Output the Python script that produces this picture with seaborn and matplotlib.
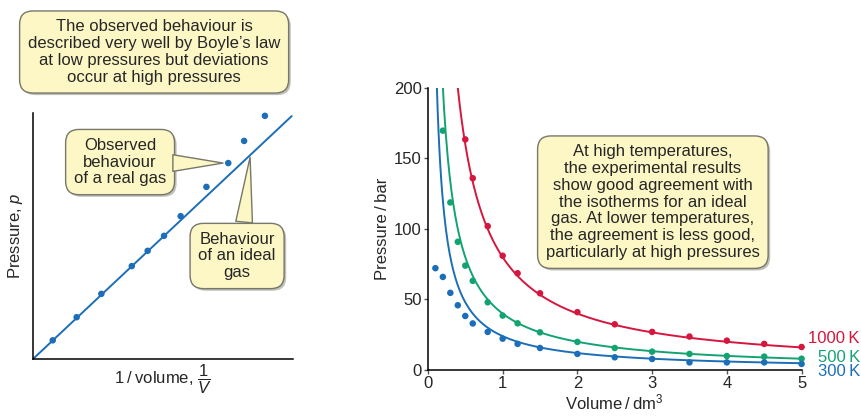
import seaborn as sns
import numpy as np
import matplotlib.pyplot as plt
from matplotlib import patheffects as pe

# left panel: 1/V vs p in arbitrary units
inv_volume = [0.76, 1.68, 2.63, 3.80, 4.41, 5.04, 5.68, 6.67, 7.51, 8.12, 8.92]
pressure_real = [0.76, 1.70, 2.65, 3.78, 4.40, 5.01, 5.81, 7.00, 7.97, 8.87, 9.89]
ideal_x = [0, 9.95]
ideal_y = [0, 9.88]

# right panel: measured points, volume in dm3, pressure in bar
vol_1000 = [0.5, 0.6, 0.8, 1.0, 1.2, 1.5, 2, 2.5, 3, 3.5, 4, 4.5, 5]
p_1000 = [163.5, 136, 102, 81, 68.6, 54.4, 41, 32.4, 27, 23.7, 20.8, 18.5, 16.3]
vol_500 = [0.2, 0.3, 0.4, 0.5, 0.6, 0.8, 1.0, 1.2, 1.5, 2, 2.5, 3, 3.5, 4, 4.5, 5]
p_500 = [169.7, 118.8, 90.9, 74, 63.2, 48, 38.6, 33.1, 26.7, 19.9, 15.6, 13, 11.4, 9.9, 9.5, 8]
vol_300 = [0.1, 0.2, 0.3, 0.4, 0.5, 0.6, 0.8, 1.0, 1.2, 1.5, 2, 2.5, 3, 3.5, 4, 4.5, 5]
p_300 = [72.2, 66, 54.7, 45.9, 38.3, 33, 27, 22.2, 18.5, 15.6, 11.4, 9, 7.8, 5.4, 5.4, 5.4, 4.3]
# ideal isotherm constants nRT (bar dm3)
nrt = {'1000 K': 80, '500 K': 40, '300 K': 24}
temps = ['1000 K', '500 K', '300 K']
label_y = [22, 9.2, -1.4]

red, green, blue = '#d6163e', '#13a370', '#1c6eb8'
colors = {'1000 K': red, '500 K': green, '300 K': blue}
box_fc, box_ec = '#fcf7c5', '#77776a'
thin = '\u2009'

sns.set_style('ticks')
plt.rcParams['font.family'] = ['Liberation Sans', 'DejaVu Sans']
plt.rcParams['mathtext.fontset'] = 'custom'
plt.rcParams['mathtext.rm'] = 'Liberation Sans'
plt.rcParams['mathtext.it'] = 'Liberation Sans:italic'
plt.rcParams['axes.edgecolor'] = 'black'
plt.rcParams['axes.linewidth'] = 1.1

fig = plt.figure(figsize=(8.61, 4.16), dpi=100)
ax1 = fig.add_axes([0.0383, 0.137, 0.302, 0.591])
ax2 = fig.add_axes([0.497, 0.1106, 0.434, 0.678])

shadow = [pe.SimplePatchShadow(offset=(1.5, -1.5), alpha=0.35), pe.Normal()]


def yellow_box(t):
    t.get_bbox_patch().set_path_effects(shadow)
    return t


# ---- left panel ----
sns.lineplot(x=ideal_x, y=ideal_y, ax=ax1, color=blue, lw=1.4)
sns.scatterplot(x=inv_volume, y=pressure_real, ax=ax1, color=blue, s=22,
                edgecolor='none', clip_on=False, zorder=3)
ax1.set_xlim(0, 10)
ax1.set_ylim(0, 10)
ax1.set_xticks([])
ax1.set_yticks([])
sns.despine(ax=ax1)
ax1.set_xlabel(f'1{thin}/{thin}volume, ' + r'$\dfrac{1}{V}$', fontsize=12, labelpad=3)
ax1.set_ylabel(r'Pressure, $p$', fontsize=12, labelpad=6)

bb = dict(boxstyle='round,pad=0.5,rounding_size=0.8', fc=box_fc, ec=box_ec, lw=1)
yellow_box(fig.text(0.179, 0.875,
                    "The observed behaviour is\ndescribed very well by Boyle\u2019s law\n"
                    "at low pressures but deviations\noccur at high pressures",
                    ha='center', va='center', fontsize=12, linespacing=1.15, bbox=bb))

yellow_box(ax1.text(3.35, 8.01, 'Observed\nbehaviour\nof a real gas', ha='center', va='center',
                    fontsize=12, linespacing=1.15, bbox=bb, zorder=4))
ax1.annotate('', xy=(7.31, 7.97), xytext=(5.38, 7.97), zorder=5,
             arrowprops=dict(arrowstyle='wedge,tail_width=1.2', fc=box_fc, ec=box_ec, lw=1,
                             shrinkA=0, shrinkB=0, patchA=None))
yellow_box(ax1.text(7.85, 4.19, 'Behaviour\nof an ideal\ngas', ha='center', va='center',
                    fontsize=12, linespacing=1.15, bbox=bb, zorder=4))
ax1.annotate('', xy=(8.35, 8.21), xytext=(8.12, 5.57), zorder=5,
             arrowprops=dict(arrowstyle='wedge,tail_width=1.2', fc=box_fc, ec=box_ec, lw=1,
                             shrinkA=0, shrinkB=0, patchA=None))

# ---- right panel ----
vgrid = np.linspace(0.08, 5, 400)
for t in temps:
    sns.lineplot(x=vgrid, y=nrt[t] / vgrid, ax=ax2, color=colors[t], lw=1.4)
for t, v, p in [('1000 K', vol_1000, p_1000), ('500 K', vol_500, p_500), ('300 K', vol_300, p_300)]:
    sns.scatterplot(x=v, y=p, ax=ax2, color=colors[t], s=22, edgecolor='none',
                    clip_on=False, zorder=3)
for t, ly in zip(temps, label_y):
    ax2.text(5.78, ly, t.replace(' ', thin), color=colors[t], ha='right', va='center',
             fontsize=12, clip_on=False)

ax2.set_xlim(0, 5)
ax2.set_ylim(0, 200)
ax2.set_xticks(range(0, 6))
ax2.set_yticks(range(0, 201, 50))
ax2.tick_params(labelsize=12, length=3, width=1, color='#555555', pad=1.5)
sns.despine(ax=ax2)
ax2.set_xlabel(f'Volume{thin}/{thin}dm$^3$', fontsize=12, labelpad=1)
ax2.set_ylabel(f'Pressure{thin}/{thin}bar', fontsize=12, labelpad=3)

yellow_box(ax2.text(3.01, 119,
                    'At high temperatures,\nthe experimental results\nshow good agreement with\n'
                    'the isotherms for an ideal\ngas. At lower temperatures,\n'
                    'the agreement is less good,\nparticularly at high pressures',
                    ha='center', va='center', fontsize=12, linespacing=1.15, bbox=bb, zorder=4))

fig.savefig('out.png', dpi=100)
